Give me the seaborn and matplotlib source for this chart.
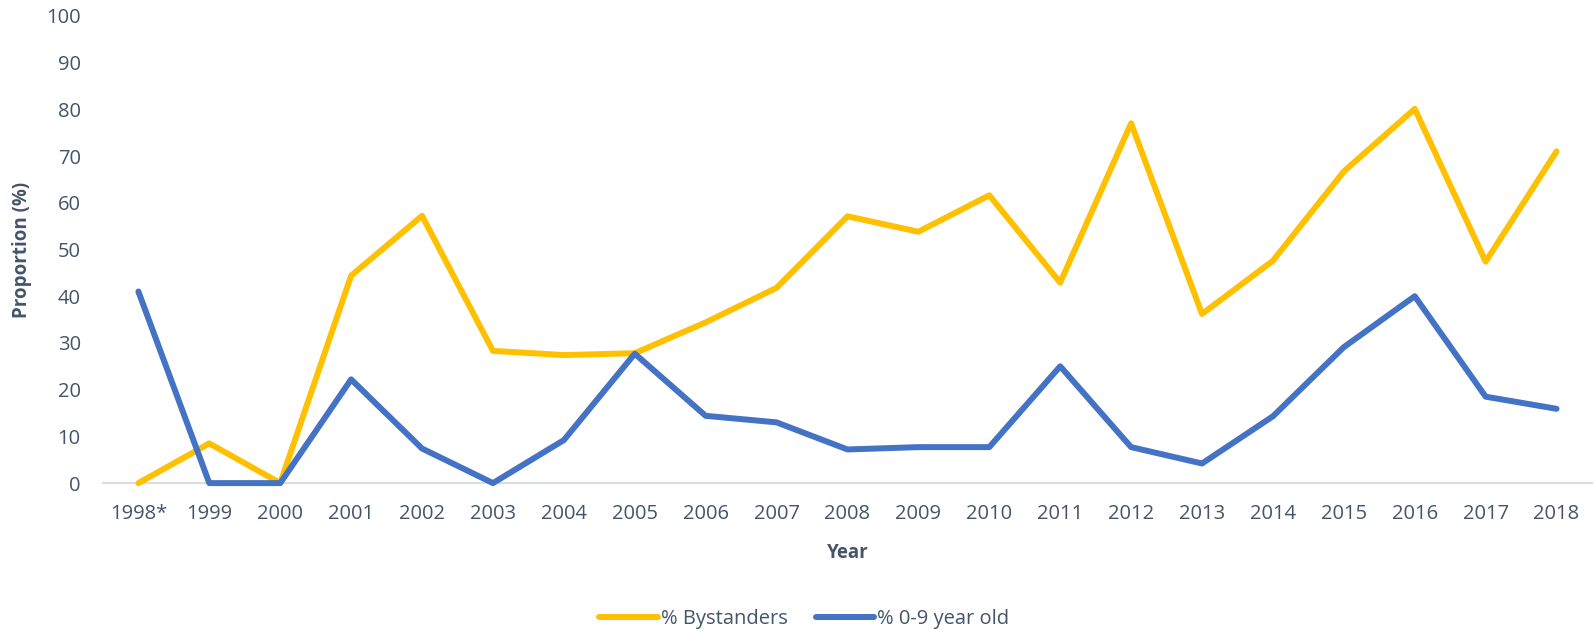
import matplotlib
matplotlib.use("Agg")
import matplotlib.pyplot as plt
import numpy as np
import pandas as pd
import seaborn as sns

years = ["1998*", "1999", "2000", "2001", "2002", "2003", "2004", "2005", "2006", "2007",
         "2008", "2009", "2010", "2011", "2012", "2013", "2014", "2015", "2016", "2017", "2018"]
bystanders = [0, 8.5, 0, 44.4, 57.2, 28.3, 27.4, 27.8, 34.4, 41.8,
              57.1, 53.8, 61.6, 42.9, 77.0, 36.2, 47.6, 66.7, 80.1, 47.4, 71.0]
age_0_9 = [41.0, 0, 0, 22.2, 7.4, 0, 9.2, 27.7, 14.4, 13.0,
           7.2, 7.7, 7.7, 25.0, 7.7, 4.2, 14.3, 29.1, 40.0, 18.5, 15.9]

series_names = ["% Bystanders", "% 0-9 year old"]
colors = ["#FFC000", "#4472C4"]
text_color = "#44546A"
axis_color = "#D9DDE5"

df = pd.DataFrame({
    "pos": list(range(len(years))) * 2,
    "value": bystanders + age_0_9,
    "series": [series_names[0]] * len(years) + [series_names[1]] * len(years),
})

sns.set_theme(style="white")
plt.rcParams["font.family"] = ["Open Sans", "DejaVu Sans"]

fig = plt.figure(figsize=(15.96, 6.34), dpi=100)
ax = fig.add_axes([0.0645, 0.238, 0.933, 0.737])

sns.lineplot(data=df, x="pos", y="value", hue="series", palette=colors,
             linewidth=4.3, ax=ax, legend=False, sort=False)
for ln in ax.lines:
    ln.set_solid_capstyle("round")
    ln.set_solid_joinstyle("round")
    ln.set_clip_on(False)
    ln.set_zorder(3)

ax.set_xlim(-0.5, len(years) - 0.5)
ax.set_ylim(0, 100)
ax.set_yticks(np.arange(0, 101, 10))
ax.set_xticks(np.arange(len(years)))
ax.set_xticklabels(years)
ax.set_xticks(np.arange(-0.5, len(years), 1.0), minor=True)

ax.tick_params(axis="x", which="major", length=0, pad=15, labelsize=14.5, labelcolor=text_color)
ax.tick_params(axis="x", which="minor", length=7, width=1.5, color=axis_color, direction="out")
ax.tick_params(axis="y", length=0, pad=16, labelsize=14.5, labelcolor=text_color)

for side in ["left", "right", "top"]:
    ax.spines[side].set_visible(False)
ax.spines["bottom"].set_color(axis_color)
ax.spines["bottom"].set_linewidth(1.5)
ax.spines["bottom"].set_zorder(1)

ax.set_xlabel("Year", fontsize=13.5, fontweight="bold", color=text_color, labelpad=14)
ax.set_ylabel("Proportion (%)", fontsize=13.5, fontweight="bold", color=text_color, labelpad=10)

handles = [plt.Line2D([], [], color=c, linewidth=4.3, solid_capstyle="round") for c in colors]
fig.legend(handles, series_names, loc="center", bbox_to_anchor=(0.504, 0.024),
           ncol=2, frameon=False, fontsize=14.5, labelcolor=text_color,
           handlelength=2.9, handletextpad=0.15, columnspacing=1.4)

fig.savefig("out.png", dpi=100)
